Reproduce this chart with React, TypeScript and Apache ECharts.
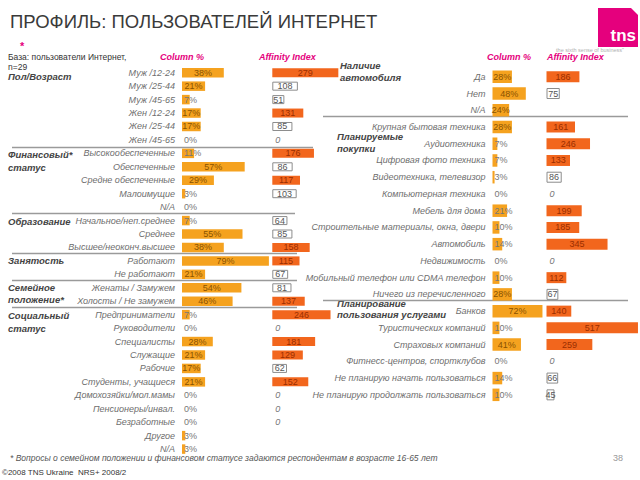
import React, { useEffect, useRef } from "react";
import * as echarts from "echarts";

const leftCategories = [
  "Муж /12-24", "Муж /25-44", "Муж /45-65", "Жен /12-24", "Жен /25-44", "Жен /45-65",
  "Высокообеспеченные", "Обеспеченные", "Средне обеспеченные", "Малоимущие", "N/A",
  "Начальное/неп.среднее", "Среднее", "Высшее/неоконч.высшее",
  "Работают", "Не работают",
  "Женаты / Замужем", "Холосты / Не замужем",
  "Предприниматели", "Руководители", "Специалисты", "Служащие", "Рабочие",
  "Студенты, учащиеся", "Домохозяйки/мол.мамы", "Пенсионеры/инвал.", "Безработные", "Другое", "N/A",
];
const leftColumnPct = [38, 21, 7, 17, 17, 0, 11, 57, 29, 3, 0, 7, 55, 38, 79, 21, 54, 46, 7, 0, 28, 21, 17, 21, 0, 0, 0, 3, 3];
const leftAffinity: (number | null)[] = [279, 108, 51, 131, 85, 0, 176, 86, 117, 103, null, 64, 85, 158, 115, 67, 81, 137, 246, 0, 181, 129, 62, 152, 0, 0, 0, null, null];

const rightCategories = [
  "Да", "Нет", "N/A",
  "Крупная бытовая техника", "Аудиотехника", "Цифровая фото техника", "Видеотехника, телевизор",
  "Компьютерная техника", "Мебель для дома", "Строительные материалы, окна, двери", "Автомобиль",
  "Недвижимость", "Мобильный телефон или CDMA телефон", "Ничего из перечисленного",
  "Банков", "Туристических компаний", "Страховых компаний", "Фитнесс-центров, спортклубов",
  "Не планирую начать пользоваться", "Не планирую продолжать пользоваться",
];
const rightColumnPct = [28, 48, 24, 28, 7, 7, 3, 0, 21, 10, 14, 0, 10, 28, 72, 10, 41, 0, 14, 10];
const rightAffinity: (number | null)[] = [186, 75, null, 161, 246, 133, 86, 0, 199, 185, 345, 0, 112, 67, 140, 517, 259, 0, 66, 45];

const FONT = "'Liberation Sans', Arial, sans-serif";
const COL_BAR = "#f5a21f";
const AFF_BAR = "#f2661d";
const PINK = "#e5007d";

const L_TOP = 66, L_H = 389.8;
const R_TOP = 68.4, R_H = 334.8;
const L_COL_W = 88, L_COL_MAX = 80;
const L_AFF_W = 71, L_AFF_MAX = 300;
const R_COL_W = 69.4, R_COL_MAX = 100;
const R_AFF_W = 92, R_AFF_MAX = 520;

function colItems(vals: number[], pxPerUnit: number) {
  return vals.map((v) => {
    const wide = v * pxPerUnit >= 16;
    return {
      value: v,
      label: {
        position: wide ? "inside" : "insideLeft",
        distance: wide ? 0 : 2,
        color: wide ? "#8a5200" : "#777",
      },
    };
  });
}

function affItems(vals: (number | null)[]) {
  return vals.map((v) => {
    if (v === null) return "-";
    if (v === 0)
      return {
        value: 0,
        itemStyle: { color: "rgba(0,0,0,0)", borderWidth: 0 },
        label: { position: "insideLeft", distance: 3, fontStyle: "italic", color: "#777" },
      };
    if (v <= 110)
      return {
        value: v,
        itemStyle: { color: "#ffffff", borderColor: "#8c8c8c", borderWidth: 1 },
        label: { position: "inside", color: "#555" },
      };
    return {
      value: v,
      itemStyle: { color: AFF_BAR },
      label: { position: "inside", color: "#9a2e00" },
    };
  });
}

function txt(text: string, x: number, y: number, style: any = {}) {
  return {
    type: "text",
    x,
    y,
    style: {
      text,
      fontFamily: FONT,
      fontSize: 9,
      fill: "#333",
      textVerticalAlign: "middle",
      ...style,
    },
  };
}

function sec(text: string, x: number, y: number) {
  return txt(text, x, y, { fontSize: 9.5, fontWeight: "bold", fontStyle: "italic", fill: "#444" });
}

function hline(x1: number, x2: number, y: number) {
  return {
    type: "line",
    shape: { x1, y1: y, x2, y2: y },
    style: { stroke: "#9a9a9a", lineWidth: 1.5 },
  };
}

export default function App() {
  const ref = useRef<HTMLDivElement>(null);
  useEffect(() => {
    if (!ref.current) return;
    const chart = echarts.init(ref.current, undefined, { renderer: "svg" });
    const catAxisLabel = {
      show: true,
      fontFamily: FONT,
      fontSize: 9,
      fontStyle: "italic",
      color: "#6e6e6e",
      margin: 7,
    };
    const option: any = {
      animation: false,
      backgroundColor: "#ffffff",
      grid: [
        { left: 182, top: L_TOP, width: L_COL_W, height: L_H },
        { left: 272.3, top: L_TOP, width: L_AFF_W, height: L_H },
        { left: 492.5, top: R_TOP, width: R_COL_W, height: R_H },
        { left: 546.5, top: R_TOP, width: R_AFF_W, height: R_H },
      ],
      xAxis: [
        { type: "value", gridIndex: 0, min: 0, max: L_COL_MAX, show: false },
        { type: "value", gridIndex: 1, min: 0, max: L_AFF_MAX, show: false },
        { type: "value", gridIndex: 2, min: 0, max: R_COL_MAX, show: false },
        { type: "value", gridIndex: 3, min: 0, max: R_AFF_MAX, show: false },
      ],
      yAxis: [
        { type: "category", gridIndex: 0, inverse: true, data: leftCategories, axisLine: { show: false }, axisTick: { show: false }, axisLabel: catAxisLabel },
        { type: "category", gridIndex: 1, inverse: true, data: leftCategories, show: false },
        { type: "category", gridIndex: 2, inverse: true, data: rightCategories, axisLine: { show: false }, axisTick: { show: false }, axisLabel: catAxisLabel },
        { type: "category", gridIndex: 3, inverse: true, data: rightCategories, show: false },
      ],
      series: [
        {
          type: "bar", xAxisIndex: 0, yAxisIndex: 0, barWidth: 9.5,
          itemStyle: { color: COL_BAR },
          label: { show: true, formatter: "{c}%", fontFamily: FONT, fontSize: 9 },
          data: colItems(leftColumnPct, L_COL_W / L_COL_MAX),
        },
        {
          type: "bar", xAxisIndex: 1, yAxisIndex: 1, barWidth: 9,
          label: { show: true, formatter: "{c}", fontFamily: FONT, fontSize: 9 },
          data: affItems(leftAffinity),
        },
        {
          type: "bar", xAxisIndex: 2, yAxisIndex: 2, barWidth: 12.5,
          itemStyle: { color: COL_BAR },
          label: { show: true, formatter: "{c}%", fontFamily: FONT, fontSize: 9 },
          data: colItems(rightColumnPct, R_COL_W / R_COL_MAX),
        },
        {
          type: "bar", xAxisIndex: 3, yAxisIndex: 3, barWidth: 11,
          label: { show: true, formatter: "{c}", fontFamily: FONT, fontSize: 9 },
          data: affItems(rightAffinity),
        },
      ],
      graphic: [
        txt("ПРОФИЛЬ: ПОЛЬЗОВАТЕЛЕЙ ИНТЕРНЕТ", 10, 21, { fontSize: 18.5, fill: "#3a3a3a" }),
        {
          type: "polygon",
          shape: { points: [[598, 8], [631, 8], [638, 15], [638, 47], [598, 47]] },
          style: { fill: PINK },
        },
        txt("tns", 636, 35, { fontSize: 17, fontWeight: "bold", fill: "#ffffff", textAlign: "right" }),
        txt("the sixth sense of business\u201d", 590, 50, { fontSize: 5.5, fill: "#b0b0b0", textAlign: "center" }),
        txt("База: пользователи Интернет,", 8, 56.5, { fontSize: 8.5 }),
        txt("n=29", 8, 67, { fontSize: 8.5 }),
        txt("*", 20, 46, { fontSize: 11, fill: PINK, fontWeight: "bold" }),
        txt("Column %", 160, 57, { fill: PINK, fontStyle: "italic", fontWeight: "bold" }),
        txt("Affinity Index", 259, 57, { fill: PINK, fontStyle: "italic", fontWeight: "bold" }),
        txt("Column %", 487, 57, { fill: PINK, fontStyle: "italic", fontWeight: "bold" }),
        txt("Affinity Index", 547, 57, { fill: PINK, fontStyle: "italic", fontWeight: "bold" }),
        sec("Пол/Возраст", 8, 76),
        sec("Финансовый*", 8, 154),
        sec("статус", 8, 167),
        sec("Образование", 8, 221),
        sec("Занятость", 8, 260),
        sec("Семейное", 8, 287),
        sec("положение*", 8, 299),
        sec("Социальный", 8, 315),
        sec("статус", 8, 328),
        sec("Наличие", 340, 65),
        sec("автомобиля", 340, 77),
        sec("Планируемые", 337, 136),
        sec("покупки", 337, 148),
        sec("Планирование", 337, 303.5),
        sec("пользования услугами", 337, 314.5),
        hline(12, 313, 147.5),
        hline(12, 295, 213.5),
        hline(12, 297, 253.5),
        hline(12, 297, 280.5),
        hline(12, 297, 307.5),
        hline(323, 628, 116.5),
        hline(323, 628, 300.5),
        txt("* Вопросы о семейном положении и финансовом статусе задаются респондентам в возрасте 16-65 лет", 10, 458, { fontSize: 8.5, fontStyle: "italic", fill: "#555" }),
        txt("38", 613, 458, { fill: "#999" }),
        txt("©2008 TNS Ukraine  NRS+ 2008/2", 2, 472, { fontSize: 8, fill: "#333" }),
      ],
    };
    chart.setOption(option);
    return () => chart.dispose();
  }, []);
  return (
    <div
      ref={ref}
      style={{ position: "fixed", left: 0, top: 0, width: 640, height: 480, background: "#fff" }}
    />
  );
}
